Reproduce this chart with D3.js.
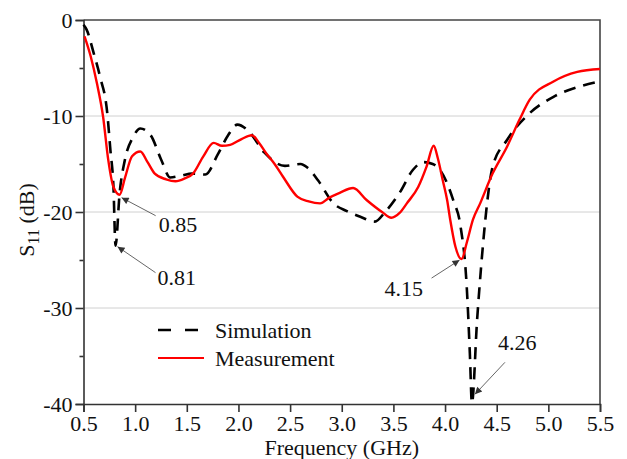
<!DOCTYPE html>
<meta charset="utf-8">
<style>
body { margin: 0; background: #fff; }
text { font-family: "Liberation Serif", "Times New Roman", serif; fill: #111; }
</style>
<body>
<script src="https://d3js.org/d3.v7.min.js"></script>
<script>
// frequency (GHz) / S11 (dB)
var simFreq = [0.5, 0.53, 0.6, 0.66, 0.73, 0.76, 0.79, 0.81, 0.85, 0.9, 0.98, 1.05, 1.15, 1.25, 1.34, 1.45, 1.55, 1.68, 1.8, 1.9, 1.99, 2.1, 2.25, 2.45, 2.6, 2.67, 2.77, 2.92, 3.05, 3.18, 3.32, 3.42, 3.56, 3.69, 3.79, 3.88, 3.95, 4.02, 4.08, 4.15, 4.21, 4.24, 4.26, 4.31, 4.36, 4.39, 4.46, 4.6, 4.82, 5.05, 5.28, 5.5];
var simDb   = [-0.5, -1.0, -3.5, -5.9, -9.7, -13.5, -17.4, -23.5, -18.0, -14.6, -12.2, -11.3, -12.0, -14.5, -16.4, -16.2, -16.0, -16.1, -14.0, -12.0, -10.9, -11.6, -13.8, -15.2, -15.0, -15.4, -16.7, -19.1, -19.9, -20.5, -21.0, -20.0, -18.0, -15.6, -14.8, -15.0, -15.6, -17.0, -18.8, -21.5, -27.8, -34.7, -39.9, -31.3, -24.3, -20.8, -15.3, -12.5, -9.7, -8.0, -7.0, -6.4];

var measFreq = [0.51, 0.57, 0.63, 0.69, 0.74, 0.79, 0.85, 0.9, 0.97, 1.05, 1.12, 1.19, 1.3, 1.39, 1.48, 1.56, 1.66, 1.76, 1.84, 1.92, 2.03, 2.13, 2.2, 2.27, 2.35, 2.43, 2.57, 2.68, 2.79, 2.88, 2.98, 3.11, 3.24, 3.39, 3.48, 3.56, 3.63, 3.74, 3.82, 3.89, 3.93, 3.98, 4.02, 4.05, 4.1, 4.16, 4.21, 4.27, 4.34, 4.46, 4.6, 4.72, 4.82, 5.05, 5.28, 5.5];
var measDb   = [-1.7, -3.8, -6.6, -10.1, -14.6, -17.4, -18.2, -16.5, -14.2, -13.7, -14.8, -16.0, -16.6, -16.8, -16.5, -16.0, -14.2, -12.8, -13.1, -13.0, -12.4, -12.0, -12.8, -13.9, -15.0, -16.3, -18.4, -18.9, -19.1, -18.5, -18.0, -17.5, -18.75, -20.0, -20.6, -20.1, -19.1, -17.4, -15.3, -13.1, -14.4, -16.8, -18.75, -20.8, -23.6, -24.9, -23.2, -20.8, -19.1, -16.0, -13.2, -10.4, -8.3, -6.4, -5.4, -5.1];

var xTicks = [0.5, 1.0, 1.5, 2.0, 2.5, 3.0, 3.5, 4.0, 4.5, 5.0, 5.5];
var yTicks = [0, -10, -20, -30, -40];
var yMinor = [-5, -15, -25, -35];
var gridLines = [-10, -20, -30];

var annotations = [
  {label: "0.85", f: 0.85, db: -18.3, dx: 36, dy: 20, tx: 39, ty: 36},
  {label: "0.81", f: 0.81, db: -23.4, dx: 40, dy: 28, tx: 42, ty: 40},
  {label: "4.15", f: 4.16, db: -24.8, dx: -30, dy: 20, tx: -77, ty: 38},
  {label: "4.26", f: 4.27, db: -39.2, dx: 32, dy: -34, tx: 25, ty: -46}
];

var W = 627, H = 459, FS = 22;
var m = {left: 83.5, right: 27, top: 20, bottom: 55};
var svg = d3.select("body").append("svg").attr("width", W).attr("height", H);

var x = d3.scaleLinear().domain([0.5, 5.5]).range([m.left, W - m.right]);
var y = d3.scaleLinear().domain([-40, 0]).range([H - m.bottom, m.top]);

// grid
svg.selectAll(".grid").data(gridLines).enter().append("line")
  .attr("x1", x(0.5)).attr("x2", x(5.5))
  .attr("y1", function(d) { return y(d); }).attr("y2", function(d) { return y(d); })
  .attr("stroke", "#d0d0d0").attr("stroke-width", 1);

// frame top/right
svg.append("path")
  .attr("d", "M" + x(0.5) + "," + y(0) + "H" + x(5.5) + "V" + y(-40))
  .attr("fill", "none").attr("stroke", "#444").attr("stroke-width", 1.6);

var xAxis = svg.append("g").attr("transform", "translate(0," + y(-40) + ")")
  .call(d3.axisBottom(x).tickValues(xTicks).tickFormat(d3.format(".1f")).tickSize(8).tickPadding(3));
var yAxis = svg.append("g").attr("transform", "translate(" + x(0.5) + ",0)")
  .call(d3.axisLeft(y).tickValues(yTicks).tickFormat(function(d) { return d === 0 ? "0" : "-" + Math.abs(d); }).tickSize(8).tickPadding(3));
svg.append("g").attr("transform", "translate(" + x(0.5) + ",0)")
  .call(d3.axisLeft(y).tickValues(yMinor).tickSize(4).tickFormat(""))
  .select(".domain").remove();

svg.selectAll(".tick text").attr("font-size", FS).attr("font-family", "Liberation Serif").attr("fill", "#111");
svg.selectAll(".domain, .tick line").attr("stroke", "#333").attr("stroke-width", 1.6);

// axis titles
svg.append("text").attr("x", (x(0.5) + x(5.5)) / 2).attr("y", 455)
  .attr("text-anchor", "middle").attr("font-size", FS).text("Frequency (GHz)");
var yl = svg.append("text").attr("transform", "translate(34,220) rotate(-90)")
  .attr("text-anchor", "middle").attr("font-size", FS);
yl.append("tspan").text("S");
yl.append("tspan").attr("font-size", 16).attr("dy", 5).text("11");
yl.append("tspan").attr("dy", -5).text(" (dB)");

var line = d3.line().curve(d3.curveMonotoneX)
  .x(function(d) { return x(d[0]); }).y(function(d) { return y(d[1]); });

svg.append("path").datum(d3.zip(simFreq, simDb))
  .attr("d", line).attr("fill", "none").attr("stroke", "#000")
  .attr("stroke-width", 2.6).attr("stroke-dasharray", "12,8");
svg.append("path").datum(d3.zip(measFreq, measDb))
  .attr("d", line).attr("fill", "none").attr("stroke", "#ff0000")
  .attr("stroke-width", 2.4);

// legend
var leg = [{name: "Simulation", color: "#000", dash: "13,14", y: 330},
           {name: "Measurement", color: "#ff0000", dash: null, y: 358}];
leg.forEach(function(l) {
  svg.append("line").attr("x1", 158).attr("x2", 204).attr("y1", l.y).attr("y2", l.y)
    .attr("stroke", l.color).attr("stroke-width", l.dash ? 2.6 : 2.2)
    .attr("stroke-dasharray", l.dash);
  svg.append("text").attr("x", 215).attr("y", l.y + 8).attr("font-size", FS).text(l.name);
});

// annotations with arrows
svg.append("defs").append("marker").attr("id", "ah")
  .attr("viewBox", "0 0 10 10").attr("refX", 10).attr("refY", 5)
  .attr("markerWidth", 9).attr("markerHeight", 7).attr("orient", "auto")
  .attr("markerUnits", "userSpaceOnUse")
  .append("path").attr("d", "M0,0L10,5L0,10z").attr("fill", "#333");

annotations.forEach(function(a) {
  var px = x(a.f), py = y(a.db);
  svg.append("line").attr("x1", px + a.dx).attr("y1", py + a.dy)
    .attr("x2", px + 2 * Math.sign(a.dx)).attr("y2", py + 2 * Math.sign(a.dy))
    .attr("stroke", "#555").attr("stroke-width", 0.9).attr("marker-end", "url(#ah)");
  svg.append("text").attr("x", px + a.tx).attr("y", py + a.ty)
    .attr("font-size", FS).text(a.label);
});
</script>
</body>
